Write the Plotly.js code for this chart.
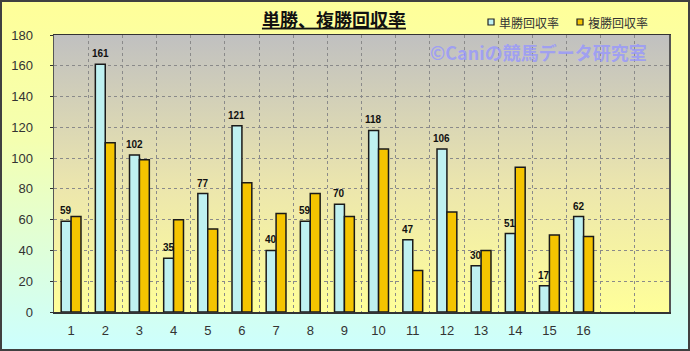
<!DOCTYPE html>
<html>
<head>
<meta charset="utf-8">
<script src="https://cdn.plot.ly/plotly-3.0.1.min.js"></script>
<style>
html,body{margin:0;padding:0;}
body{width:690px;height:351px;overflow:hidden;background:linear-gradient(to bottom,#ffff99 0%,#f4ffb0 40%,#ccffff 100%);position:relative;}
#chart{position:absolute;left:0;top:0;width:690px;height:351px;}
#frame{position:absolute;left:0;top:0;width:690px;height:351px;box-sizing:border-box;border:2px solid #404040;pointer-events:none;}
</style>
</head>
<body>
<div id="chart"></div>
<div id="frame"></div>
<script>
const categories = [1,2,3,4,5,6,7,8,9,10,11,12,13,14,15,16];
const tanshoRate = [59,161,102,35,77,121,40,59,70,118,47,106,30,51,17,62];
const fukushoRate = [62,110,99,60,54,84,64,77,62,106,27,65,40,94,50,49];
const seriesNames = ['単勝回収率','複勝回収率'];
const seriesColors = ['#bff1f1','#f5c400'];
const chartTitle = '単勝、複勝回収率';
const watermark = '©Caniの競馬データ研究室';

const gradSvg = '<svg xmlns="http://www.w3.org/2000/svg" width="10" height="100" preserveAspectRatio="none"><defs><linearGradient id="g" x1="0" y1="0" x2="0" y2="1"><stop offset="0" stop-color="#c0c0c0"/><stop offset="0.55" stop-color="#ece6ad"/><stop offset="1" stop-color="#ffff99"/></linearGradient></defs><rect width="10" height="100" fill="url(#g)"/></svg>';
const gradUri = 'data:image/svg+xml;charset=utf-8,' + encodeURIComponent(gradSvg);

const jpFont = '"Noto Sans CJK JP", "Noto Sans", sans-serif';
const latinFont = '"Liberation Sans", Arial, sans-serif';

const traces = [
  {
    type: 'bar', name: seriesNames[0], x: categories, y: tanshoRate,
    marker: {color: seriesColors[0], line: {color: '#1a1a1a', width: 1.5}},
    hoverinfo: 'skip', showlegend: false
  },
  {
    type: 'bar', name: seriesNames[1], x: categories, y: fukushoRate,
    marker: {color: seriesColors[1], line: {color: '#1a1a1a', width: 1.5}},
    hoverinfo: 'skip', showlegend: false
  }
];

// value labels above the 単勝 bars
const valueLabels = categories.map((c, i) => ({
  text: String(tanshoRate[i]), x: c, y: tanshoRate[i], xref: 'x', yref: 'y',
  xanchor: 'center', yanchor: 'bottom', xshift: -5, yshift: 3, showarrow: false,
  font: {family: latinFont, size: 10, color: '#111', weight: 'bold'}
}));

// custom legend (small squares with text), placed in paper coordinates
const legendX = [0.7057, 0.8504];
const legendShapes = seriesNames.map((n, i) => ({
  type: 'rect', xref: 'paper', yref: 'paper',
  x0: legendX[i], x1: legendX[i] + 0.0098, y0: 1.0361, y1: 1.0578,
  fillcolor: seriesColors[i], line: {color: '#222', width: 1.2}
}));
const legendTexts = seriesNames.map((n, i) => ({
  text: n, xref: 'paper', yref: 'paper', x: legendX[i] + 0.0146, y: 1.0469,
  xanchor: 'left', yanchor: 'middle', showarrow: false,
  font: {family: jpFont, size: 12, color: '#333'}
}));

const layout = {
  width: 690, height: 351,
  margin: {l: 54, r: 21, t: 35, b: 39, autoexpand: false},
  paper_bgcolor: 'rgba(0,0,0,0)',
  plot_bgcolor: 'rgba(0,0,0,0)',
  barmode: 'group', bargap: 0.42, bargroupgap: 0,
  showlegend: false,
  title: {text: chartTitle, x: 0.484, xanchor: 'center', y: 0.942, yanchor: 'middle',
          font: {family: jpFont, size: 18, color: '#111', weight: 'bold', lineposition: 'under'}},
  xaxis: {
    range: [0.5, 18.5], tickvals: categories, ticktext: categories.map(String),
    showgrid: false, zeroline: false,
    showline: true, linecolor: '#333', linewidth: 1.5, mirror: true,
    ticks: '', ticklabelstandoff: 6,
    tickfont: {family: latinFont, size: 13, color: '#333'},
    minor: {tick0: 0.5, dtick: 1, showgrid: true, gridcolor: '#8a8a8a', griddash: 'dot', gridwidth: 1, ticks: ''}
  },
  yaxis: {
    range: [0, 180], dtick: 20, tick0: 0,
    showgrid: true, gridcolor: '#8a8a8a', griddash: 'dot', gridwidth: 1,
    zeroline: false, showline: true, linecolor: '#555', linewidth: 1.5, mirror: true,
    ticks: 'outside', ticklen: 3, tickcolor: '#333', ticklabelstandoff: 14,
    tickfont: {family: latinFont, size: 13, color: '#333'}
  },
  images: [{source: gradUri, xref: 'paper', yref: 'paper', x: 0, y: 1, sizex: 1, sizey: 1,
            xanchor: 'left', yanchor: 'top', sizing: 'stretch', layer: 'below'}],
  shapes: legendShapes,
  annotations: legendTexts.concat(valueLabels, [{
    text: watermark, xref: 'paper', yref: 'paper', x: 0.968, y: 0.94,
    xanchor: 'right', yanchor: 'middle', showarrow: false,
    font: {family: jpFont, size: 18, color: 'rgba(150,150,255,0.8)', weight: 'bold'}
  }])
};

Plotly.newPlot('chart', traces, layout, {displayModeBar: false, staticPlot: true});
</script>
</body>
</html>
